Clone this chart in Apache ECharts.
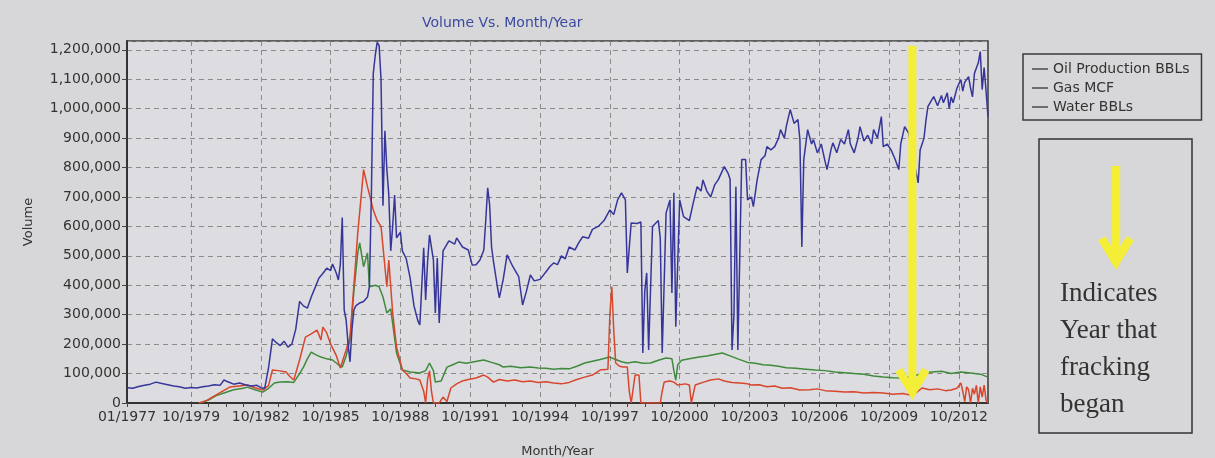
<!DOCTYPE html>
<html><head><meta charset="utf-8">
<script src="https://cdn.jsdelivr.net/npm/echarts@6/dist/echarts.min.js"></script>
<style>html,body{margin:0;padding:0;background:#d7d7d9;}#c{width:1215px;height:458px;}</style>
</head><body><div id="c"></div>
<script>
// ---- categories: monthly, 01/1977 .. 01/2014 ----
const startYear = 1977, monthCount = 445;
const months = [];
for (let i = 0; i < monthCount; i++) {
  months.push(String(i % 12 + 1).padStart(2, '0') + '/' + (startYear + Math.floor(i / 12)));
}
const xTickLabels = ['01/1977','10/1979','10/1982','10/1985','10/1988','10/1991','10/1994','10/1997','10/2000','10/2003','10/2006','10/2009','10/2012'];
const frackingMonth = '10/2010';

// ---- series values: [months since 01/1977, volume] ----
const oil = [[38,0],[42,10000],[46,25000],[50,34000],[55,45000],[60,50000],[62,54000],[66,45000],[70,37000],[73,50000],[76,68000],[79,71000],[83,72000],[86,70000],[89,100000],[91,122000],[93,150000],[95,173000],[97,165000],[100,156000],[103,150000],[106,146000],[109,130000],[111,122000],[113,160000],[115,214000],[117,380000],[119,510000],[120,544000],[122,463000],[124,510000],[125,395000],[128,400000],[130,395000],[132,360000],[134,306000],[136,320000],[139,170000],[142,112000],[146,105000],[151,102000],[154,110000],[156,136000],[158,110000],[159,71000],[162,75000],[165,122000],[168,130000],[171,139000],[175,135000],[179,140000],[184,146000],[188,138000],[192,130000],[194,122000],[198,125000],[203,120000],[208,122000],[212,119000],[216,118000],[220,115000],[224,117000],[228,116000],[232,125000],[236,136000],[240,142000],[244,148000],[249,156000],[252,148000],[255,140000],[258,136000],[262,140000],[266,135000],[270,136000],[274,145000],[278,153000],[281,150000],[282,110000],[283,78000],[284,130000],[286,145000],[290,150000],[295,156000],[299,160000],[303,165000],[307,170000],[311,160000],[315,150000],[320,138000],[324,135000],[328,130000],[332,128000],[336,125000],[340,120000],[345,118000],[350,115000],[355,112000],[360,110000],[365,105000],[370,103000],[375,100000],[380,98000],[385,92000],[390,88000],[395,86000],[400,85000],[405,90000],[410,100000],[415,105000],[420,108000],[425,100000],[430,105000],[435,102000],[440,98000],[444,88000]];

const gas = [[37,0],[41,8000],[44,20000],[48,35000],[53,54000],[58,58000],[62,61000],[66,52000],[70,44000],[73,60000],[75,112000],[78,110000],[82,105000],[84,90000],[86,78000],[89,146000],[92,224000],[95,235000],[98,248000],[100,214000],[101,258000],[103,238000],[105,200000],[108,160000],[110,119000],[113,180000],[115,224000],[117,400000],[119,578000],[121,720000],[122,793000],[124,735000],[127,656000],[129,620000],[131,600000],[133,463000],[134,395000],[135,486000],[137,306000],[139,190000],[142,112000],[144,100000],[146,85000],[149,82000],[151,78000],[153,40000],[154,0],[155,80000],[156,109000],[157,40000],[158,0],[161,0],[163,20000],[165,5000],[167,51000],[170,65000],[173,75000],[176,80000],[180,85000],[184,95000],[186,88000],[189,71000],[192,80000],[196,75000],[200,78000],[204,72000],[208,75000],[212,70000],[216,72000],[220,68000],[224,65000],[228,70000],[232,80000],[236,88000],[240,95000],[244,112000],[248,115000],[249,300000],[250,395000],[251,248000],[252,136000],[254,125000],[256,122000],[258,122000],[259,40000],[260,0],[261,0],[262,95000],[264,95000],[265,0],[275,0],[276,40000],[277,71000],[280,75000],[282,71000],[284,61000],[288,65000],[290,61000],[291,0],[292,0],[293,61000],[297,70000],[301,78000],[305,82000],[308,75000],[312,70000],[316,68000],[320,65000],[322,61000],[326,62000],[330,55000],[334,58000],[338,50000],[342,52000],[347,44000],[352,45000],[356,48000],[360,42000],[365,40000],[370,37000],[375,38000],[380,34000],[385,36000],[390,34000],[395,30000],[400,32000],[404,27000],[407,35000],[410,51000],[414,45000],[418,48000],[422,42000],[425,44000],[428,50000],[430,68000],[431,40000],[432,5000],[433,55000],[434,45000],[435,0],[436,50000],[437,30000],[438,60000],[439,0],[440,55000],[441,20000],[442,61000],[443,10000],[444,0]];

const water = [[0,52000],[3,50000],[6,56000],[9,60000],[12,64000],[15,71000],[18,66000],[21,62000],[24,58000],[27,55000],[30,50000],[33,53000],[36,51000],[39,55000],[42,58000],[45,62000],[48,60000],[50,78000],[52,72000],[55,64000],[58,68000],[61,62000],[64,58000],[67,60000],[69,52000],[71,50000],[73,120000],[75,218000],[77,205000],[79,195000],[81,210000],[83,190000],[85,200000],[87,250000],[89,345000],[91,330000],[93,322000],[95,360000],[97,392000],[99,425000],[101,440000],[103,458000],[105,450000],[106,472000],[108,440000],[109,418000],[110,470000],[111,630000],[112,316000],[113,282000],[114,200000],[115,140000],[116,250000],[117,316000],[118,330000],[120,340000],[122,345000],[124,360000],[125,395000],[126,700000],[127,1120000],[128,1180000],[129,1225000],[130,1215000],[131,1100000],[132,670000],[133,925000],[134,793000],[135,707000],[136,517000],[137,600000],[138,707000],[139,561000],[141,580000],[142,517000],[144,490000],[146,425000],[148,330000],[150,279000],[151,265000],[153,527000],[154,350000],[155,480000],[156,571000],[158,486000],[159,306000],[160,493000],[161,272000],[163,517000],[166,551000],[169,540000],[170,561000],[173,530000],[176,520000],[178,469000],[180,470000],[182,486000],[184,520000],[185,620000],[186,731000],[187,673000],[188,530000],[189,480000],[191,395000],[192,357000],[194,420000],[196,503000],[197,490000],[199,463000],[202,429000],[204,333000],[206,380000],[208,435000],[210,415000],[213,420000],[216,445000],[218,463000],[220,476000],[222,470000],[224,500000],[226,490000],[228,530000],[231,520000],[233,545000],[235,565000],[238,560000],[240,590000],[243,600000],[246,620000],[249,656000],[251,640000],[253,690000],[255,714000],[257,690000],[258,442000],[260,612000],[263,610000],[265,615000],[266,170000],[267,380000],[268,442000],[269,180000],[271,600000],[274,620000],[275,560000],[276,170000],[278,646000],[280,690000],[281,374000],[282,714000],[283,259000],[285,690000],[287,633000],[290,620000],[292,680000],[294,735000],[296,720000],[297,758000],[299,720000],[301,700000],[303,740000],[305,760000],[308,803000],[310,780000],[311,760000],[312,180000],[313,300000],[314,735000],[315,180000],[316,500000],[317,827000],[319,827000],[320,690000],[322,700000],[323,667000],[325,760000],[327,827000],[329,840000],[330,871000],[332,860000],[334,871000],[336,900000],[337,929000],[339,900000],[340,940000],[342,997000],[344,950000],[346,963000],[347,895000],[348,530000],[349,827000],[351,929000],[353,880000],[354,895000],[356,850000],[358,880000],[360,820000],[361,793000],[363,860000],[364,884000],[366,850000],[368,895000],[370,880000],[372,929000],[373,880000],[375,850000],[377,900000],[378,939000],[380,890000],[382,910000],[384,880000],[385,929000],[387,900000],[389,973000],[390,871000],[392,880000],[394,860000],[396,830000],[398,793000],[399,880000],[401,939000],[403,918000],[405,850000],[407,780000],[408,748000],[409,860000],[411,900000],[412,960000],[413,1007000],[415,1030000],[416,1041000],[418,1010000],[420,1045000],[421,1020000],[423,1054000],[424,1000000],[425,1040000],[426,1020000],[428,1070000],[430,1099000],[431,1060000],[432,1090000],[434,1109000],[435,1070000],[436,1040000],[437,1120000],[439,1156000],[440,1194000],[441,1065000],[442,1140000],[443,1060000],[444,973000]];

const seriesNames = ['Oil Production BBLs', 'Gas MCF', 'Water BBLs'];
const seriesColors = ['#3f8a3c', '#d8462c', '#36369a'];
const seriesValues = [oil, gas, water];

const FONT = 'DejaVu Sans';
const YELLOW = '#f4ee36';
const chart = echarts.init(document.getElementById('c'));

chart.setOption({
  animation: false,
  backgroundColor: '#d7d7d9',
  title: {
    text: 'Volume Vs. Month/Year', left: 417, top: 11,
    textStyle: { color: '#3b4aa0', fontSize: 14, fontWeight: 'normal', fontFamily: FONT }
  },
  legend: {
    orient: 'vertical', left: 1023, top: 54,
    padding: [8, 12, 6, 9], itemGap: 5, itemWidth: 16, itemHeight: 16,
    icon: 'path://M0,7.25 L16,7.25 L16,8.75 L0,8.75 Z',
    itemStyle: { color: '#4a4a4a', borderWidth: 0 },
    borderColor: '#3a3a3a', borderWidth: 1.5,
    textStyle: { fontFamily: FONT, fontSize: 14, color: '#333' },
    data: seriesNames
  },
  grid: {
    left: 127, right: 227, top: 41, bottom: 55, show: true, outerBoundsMode: 'none',
    backgroundColor: '#dcdce1', borderColor: '#3a3a3a', borderWidth: 1.5
  },
  xAxis: {
    type: 'category', data: months, boundaryGap: false,
    name: 'Month/Year', nameLocation: 'middle', nameGap: 42,
    nameTextStyle: { fontFamily: FONT, fontSize: 13, color: '#333' },
    axisLine: { lineStyle: { color: '#333', width: 2 } },
    axisTick: { length: 4, lineStyle: { color: '#444' },
      interval: (i) => i === 0 || (i >= 33 && (i - 33) % 9 === 0) },
    axisLabel: { fontFamily: FONT, fontSize: 14, color: '#333', margin: 7,
      interval: (i, v) => xTickLabels.includes(v) },
    splitLine: { show: true, interval: (i, v) => i > 0 && xTickLabels.includes(v),
      lineStyle: { color: '#8a8a8a', type: [5, 4], width: 1 } }
  },
  yAxis: {
    type: 'value', min: 0, max: 1230000, interval: 100000,
    name: 'Volume', nameLocation: 'middle', nameGap: 92,
    nameTextStyle: { fontFamily: FONT, fontSize: 13, color: '#333' },
    axisLine: { show: true, lineStyle: { color: '#333', width: 2 } },
    axisTick: { show: true, length: 5, lineStyle: { color: '#444' } },
    axisLabel: { fontFamily: FONT, fontSize: 14, color: '#333', margin: 6, showMaxLabel: false,
      formatter: (v) => v.toLocaleString('en-US') },
    splitLine: { show: true, lineStyle: { color: '#8a8a8a', type: [5, 4], width: 1 } }
  },
  series: seriesNames.map((n, k) => ({
    name: n, type: 'line', data: seriesValues[k], symbol: 'none',
    lineStyle: { color: seriesColors[k], width: 1.5 }, itemStyle: { color: seriesColors[k] }
  }))
});

// chevron arrow (pointing down) built as graphic elements
function arrowElems(x, yTop, yTip, s) {
  const pts = [[0,0],[17,-28],[10.2,-32.2],[0,-15.5],[-10.2,-32.2],[-17,-28]]
    .map(p => [x + p[0] * s, yTip + p[1] * s]);
  return [
    { type: 'line', z: 100, shape: { x1: x, y1: yTop, x2: x, y2: yTip - 14 * s },
      style: { stroke: YELLOW, lineWidth: 8 * s } },
    { type: 'polygon', z: 100, shape: { points: pts }, style: { fill: YELLOW } }
  ];
}

const fx = months.indexOf(frackingMonth);
const pTop = chart.convertToPixel({ xAxisIndex: 0, yAxisIndex: 0 }, [fx, 1214000]);
const pTip = chart.convertToPixel({ xAxisIndex: 0, yAxisIndex: 0 }, [fx, 10000]);

const noteLines = ['Indicates', 'Year that', 'fracking', 'began'];
const graphics = [
  ...arrowElems(pTop[0], pTop[1], pTip[1], 1),
  { type: 'rect', z: 100, shape: { x: 1039, y: 139, width: 153, height: 294 },
    style: { fill: 'none', stroke: '#333', lineWidth: 1.5 } },
  ...arrowElems(1116, 166, 270, 1.05),
  ...noteLines.map((t, i) => ({
    type: 'text', z: 100, x: 1060, y: 294 + i * 37,
    style: { text: t, fontFamily: 'Liberation Serif', fontSize: 27, fill: '#333', verticalAlign: 'middle' }
  }))
];
chart.setOption({ graphic: graphics });
</script></body></html>
